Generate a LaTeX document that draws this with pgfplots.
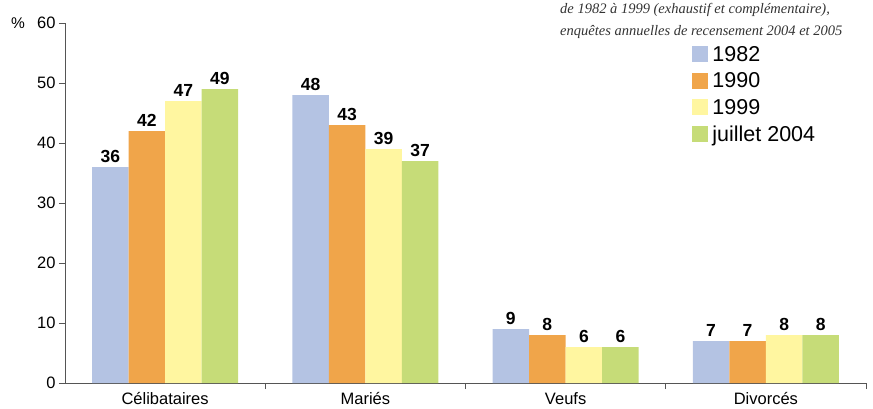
\documentclass[border=0pt]{standalone}
\usepackage{pgfplots}
\pgfplotsset{compat=1.18}
\usepackage{fontspec}
\setmainfont{Liberation Sans}
\newfontfamily\notefont{Liberation Serif}

\definecolor{cA}{HTML}{B4C3E3}
\definecolor{cB}{HTML}{F0A54A}
\definecolor{cC}{HTML}{FFF6A0}
\definecolor{cD}{HTML}{C6DC78}
\definecolor{axgray}{HTML}{555555}

\begin{document}
\begin{tikzpicture}
\begin{axis}[
  scale only axis, width=801pt, height=360pt,
  xmin=-0.5, xmax=3.5, ymin=0, ymax=60,
  axis x line*=bottom, axis y line*=left,
  axis line style={axgray, line width=0.9pt},
  ytick={0,10,...,60},
  xtick={0,1,2,3},
  xticklabels={Célibataires, Mariés, Veufs, Divorcés},
  minor xtick={0.5,1.5,2.5,3.5},
  major x tick style={draw=none},
  minor tick length=6pt, major tick length=6pt,
  tick align=outside,
  tick style={axgray, line width=0.9pt},
  tick label style={font=\fontsize{16.5}{18}\selectfont},
  /pgf/number format/assume math mode=true,
  ybar, bar width=0.1825,
  every axis plot/.append style={draw=none},
  nodes near coords,
  every node near coord/.append style={font=\fontsize{17.5}{19}\selectfont\bfseries, black, inner sep=4.5pt},
  legend style={at={(rel axis cs:0.783,0.939)}, anchor=north west, draw=none, fill=none,
    inner sep=0pt, font=\fontsize{21.5}{23}\selectfont, row sep=8pt,
    legend cell align=left, nodes={inner xsep=4pt, inner ysep=1pt}},
  legend image code/.code={\fill[#1] (0pt,-8pt) rectangle (16pt,8pt);},
  clip=false,
]
\addplot[fill=cA, bar shift=-0.27375] coordinates {(0,36)(1,48)(2,9)(3,7)};
\addplot[fill=cB, bar shift=-0.09125] coordinates {(0,42)(1,43)(2,8)(3,7)};
\addplot[fill=cC, bar shift=0.09125] coordinates {(0,47)(1,39)(2,6)(3,8)};
\addplot[fill=cD, bar shift=0.27375] coordinates {(0,49)(1,37)(2,6)(3,8)};
\legend{1982, 1990, 1999, juillet 2004}
\node[anchor=east, font=\fontsize{15.5}{18}\selectfont, inner sep=0pt] at ([xshift=-40pt]rel axis cs:0,1) {\%};
\node[anchor=base west, align=left, inner sep=0pt, text=black!80,
  font=\notefont\itshape\fontsize{14.5}{21}\selectfont] at ([yshift=9pt]rel axis cs:0.618,1)
  {de 1982 à 1999 (exhaustif et complémentaire),};
\node[anchor=base west, align=left, inner sep=0pt, text=black!80,
  font=\notefont\itshape\fontsize{14.5}{21}\selectfont] at ([yshift=-12pt]rel axis cs:0.618,1)
  {enquêtes annuelles de recensement 2004 et 2005};
\path ([xshift=7pt,yshift=23pt]rel axis cs:1,1) -- ([xshift=-65pt]rel axis cs:0,0);
\end{axis}
\end{tikzpicture}
\end{document}
